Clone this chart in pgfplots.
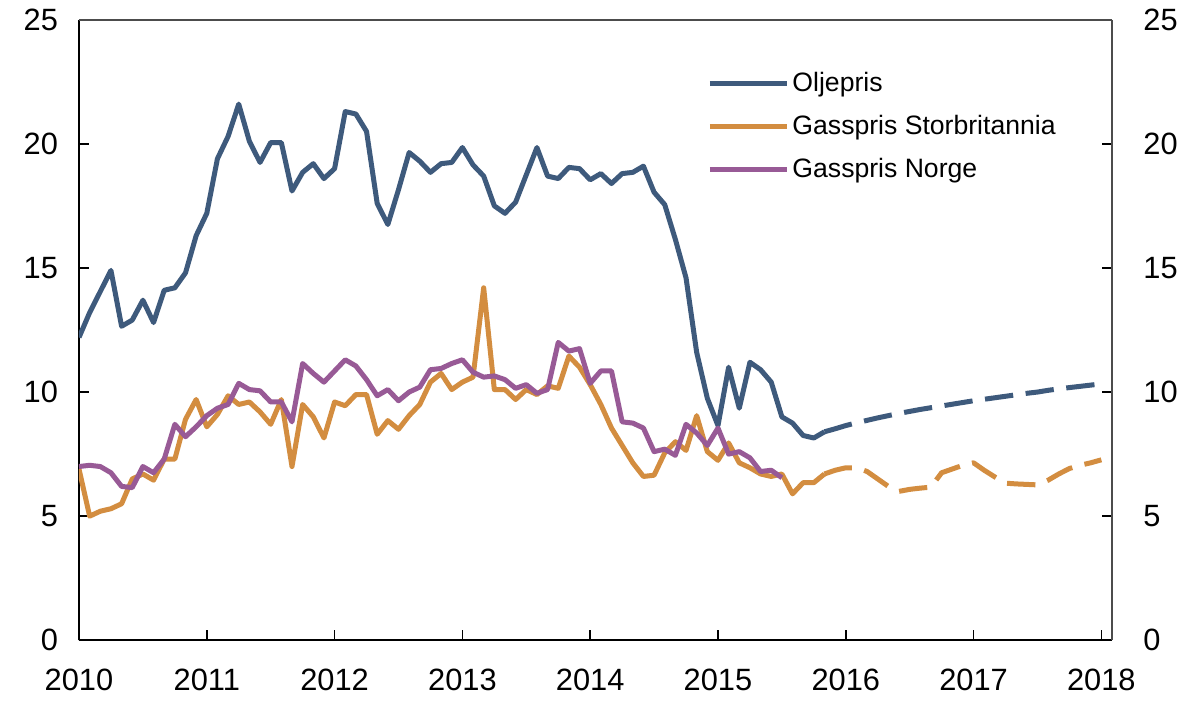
\documentclass[border=0pt]{standalone}
\usepackage{fontspec}
\setmainfont{Liberation Sans}
\usepackage{pgfplots}
\pgfplotsset{compat=1.18}
\definecolor{oil}{HTML}{3E5A7C}
\definecolor{gb}{HTML}{D38D40}
\definecolor{no}{HTML}{985A96}
\begin{document}
\begin{tikzpicture}
\pgfplotsset{
  common/.style={
    scale only axis, width=516.5pt, height=310.3pt,
    xmin=0, xmax=97, ymin=0, ymax=25,
    ytick={0,5,10,15,20,25},
    tick align=inside, major tick length=5pt,
    every tick/.style={black, line width=0.8pt},
    /pgf/number format/assume math mode=true,
    tick label style={font=\fontsize{15.4}{18}\selectfont},
  }
}
\begin{axis}[common,
  axis x line*=bottom, axis y line*=left,
  axis line style={black, line width=1pt, -},
  xtick={0,12,24,36,48,60,72,84,96},
  xticklabels={2010,2011,2012,2013,2014,2015,2016,2017,2018},
  xticklabel style={yshift=-11pt},
  yticklabel style={xshift=-7pt},
  legend style={draw=none, fill=none, at={(0.608,0.921)}, anchor=north west,
    font=\fontsize{13.3}{15}\selectfont, row sep=7.3pt, inner sep=0pt,
    nodes={inner sep=1.5pt}},
  legend cell align=left,
  legend image code/.code={\draw[#1, line width=2.5pt] (0pt,0pt) -- (38.5pt,0pt);},
  every axis plot/.append style={line width=2.5pt, line join=round},
]
\addplot[oil] table {
0 12.2
1 13.2
2 14.05
3 14.9
4 12.65
5 12.9
6 13.7
7 12.8
8 14.1
9 14.2
10 14.8
11 16.3
12 17.2
13 19.4
14 20.3
15 21.6
16 20.1
17 19.25
18 20.05
19 20.05
20 18.1
21 18.85
22 19.2
23 18.6
24 19.0
25 21.3
26 21.2
27 20.5
28 17.6
29 16.75
30 18.15
31 19.65
32 19.3
33 18.85
34 19.2
35 19.25
36 19.85
37 19.15
38 18.7
39 17.5
40 17.2
41 17.65
42 18.75
43 19.85
44 18.7
45 18.6
46 19.05
47 19.0
48 18.55
49 18.8
50 18.4
51 18.8
52 18.85
53 19.1
54 18.05
55 17.55
56 16.15
57 14.6
58 11.6
59 9.75
60 8.65
61 11.0
62 9.35
63 11.2
64 10.9
65 10.4
66 9.0
67 8.75
68 8.25
69 8.15
70 8.4
};
\addlegendentry{Oljepris}
\addplot[gb] table {
0 6.9
1 5.0
2 5.2
3 5.3
4 5.5
5 6.5
6 6.7
7 6.45
8 7.3
9 7.3
10 8.9
11 9.7
12 8.6
13 9.1
14 9.85
15 9.5
16 9.6
17 9.2
18 8.7
19 9.7
20 7.0
21 9.5
22 9.0
23 8.15
24 9.6
25 9.45
26 9.9
27 9.9
28 8.3
29 8.85
30 8.5
31 9.05
32 9.5
33 10.4
34 10.75
35 10.1
36 10.4
37 10.6
38 14.2
39 10.1
40 10.1
41 9.7
42 10.1
43 9.9
44 10.25
45 10.15
46 11.45
47 11.0
48 10.3
49 9.5
50 8.55
51 7.85
52 7.15
53 6.6
54 6.65
55 7.55
56 8.0
57 7.65
58 9.05
59 7.6
60 7.25
61 7.95
62 7.15
63 6.95
64 6.7
65 6.6
66 6.7
67 5.9
68 6.35
69 6.35
70 6.7
};
\addlegendentry{Gasspris Storbritannia}
\addplot[no] table {
0 7.0
1 7.05
2 7.0
3 6.75
4 6.2
5 6.15
6 7.0
7 6.75
8 7.3
9 8.7
10 8.2
11 8.6
12 9.05
13 9.35
14 9.5
15 10.35
16 10.1
17 10.05
18 9.6
19 9.6
20 8.8
21 11.15
22 10.75
23 10.4
24 10.85
25 11.3
26 11.05
27 10.5
28 9.85
29 10.1
30 9.65
31 10.0
32 10.2
33 10.9
34 10.95
35 11.15
36 11.3
37 10.8
38 10.6
39 10.65
40 10.5
41 10.15
42 10.3
43 9.95
44 10.1
45 12.0
46 11.65
47 11.75
48 10.35
49 10.85
50 10.85
51 8.8
52 8.75
53 8.55
54 7.6
55 7.7
56 7.45
57 8.7
58 8.35
59 7.85
60 8.55
61 7.5
62 7.6
63 7.35
64 6.8
65 6.85
66 6.55
};
\addlegendentry{Gasspris Norge}
\addplot[oil, dash pattern=on 14.2pt off 6.3pt, forget plot] table {
70 8.4
71 8.52
72 8.65
73 8.76
74 8.86
75 8.96
76 9.05
77 9.14
78 9.22
79 9.3
80 9.37
81 9.44
82 9.51
83 9.58
84 9.65
85 9.71
86 9.77
87 9.83
88 9.89
89 9.95
90 10.0
91 10.07
92 10.13
93 10.18
94 10.23
95 10.28
96 10.33
};
\addplot[gb, dash pattern=on 14.2pt off 6.3pt, forget plot] table {
70 6.7
71 6.85
72 6.95
73 6.95
74 6.8
75 6.5
76 6.2
77 6.0
78 6.08
79 6.13
80 6.17
81 6.75
82 6.9
83 7.05
84 7.15
85 6.85
86 6.58
87 6.33
88 6.3
89 6.28
90 6.26
91 6.45
92 6.7
93 6.92
94 7.05
95 7.15
96 7.27
};
\end{axis}
\begin{axis}[common,
  axis x line*=top, axis y line*=right,
  axis line style={black!70, line width=1pt, -},
  xtick=\empty,
  yticklabel pos=right,
  yticklabel style={inner sep=0pt, xshift=15.5pt},
]
\end{axis}
\path (-39.5pt,-30.35pt) rectangle (551pt,320.15pt);
\end{tikzpicture}
\end{document}
